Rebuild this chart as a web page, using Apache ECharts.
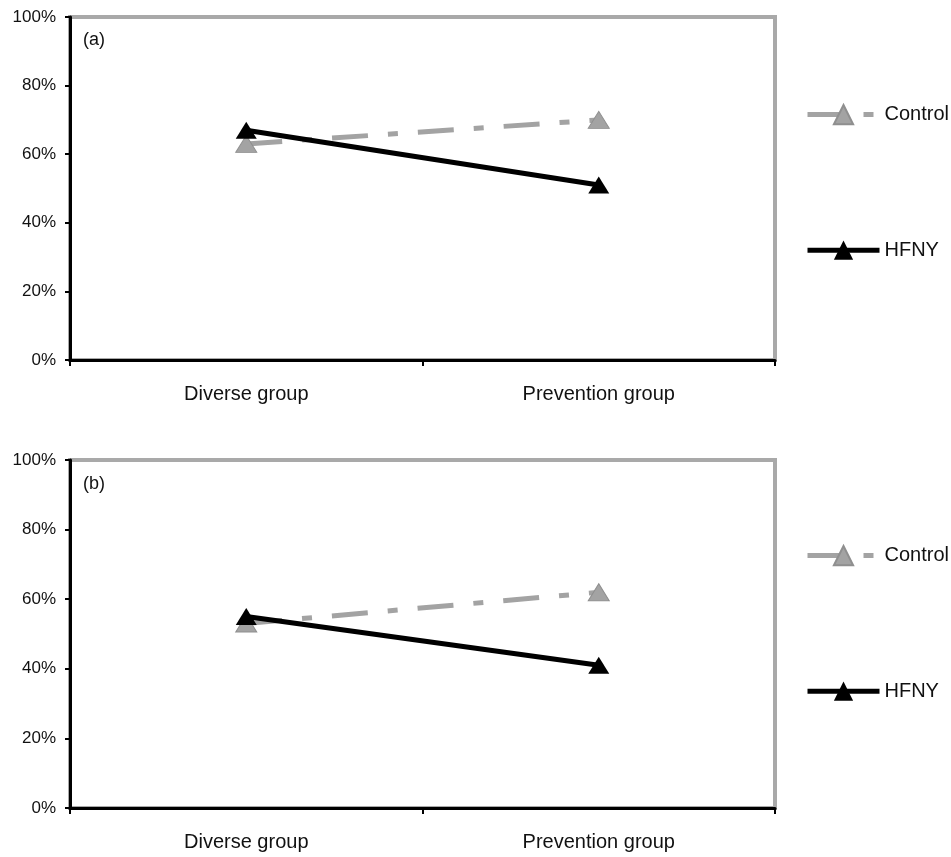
<!DOCTYPE html>
<html>
<head>
<meta charset="utf-8">
<script src="https://cdn.jsdelivr.net/npm/echarts@6/dist/echarts.min.js"></script>
<style>html,body{margin:0;padding:0;background:#fff}#c{width:951px;height:857px}</style>
</head>
<body>
<div id="c"></div>
<script>
var categories = ['Diverse group', 'Prevention group'];
var controlA = [63, 70];
var hfnyA = [67, 51];
var controlB = [53, 62];
var hfnyB = [55, 41];
var yTicks = [0, 20, 40, 60, 80, 100];

var FONT = 'Liberation Sans';
var chart = echarts.init(document.getElementById('c'));

function xAxis(gi) {
  return {
    type: 'category', gridIndex: gi, data: categories, boundaryGap: true,
    axisLine: {lineStyle: {color: '#000', width: 3}},
    axisTick: {show: true, length: 6, lineStyle: {color: '#000', width: 2}},
    axisLabel: {color: '#111', fontFamily: FONT, fontSize: 20, margin: 24},
    splitLine: {show: false}
  };
}
function yAxis(gi) {
  return {
    type: 'value', gridIndex: gi, min: yTicks[0], max: yTicks[yTicks.length - 1], interval: 20,
    axisLine: {show: true, lineStyle: {color: '#000', width: 3}},
    axisTick: {show: true, length: 5, lineStyle: {color: '#000', width: 2}},
    axisLabel: {color: '#111', fontFamily: FONT, fontSize: 17, margin: 14, formatter: '{value}%'},
    splitLine: {show: false}
  };
}
function ctrl(name, data, gi) {
  return {
    name: name, type: 'line', xAxisIndex: gi, yAxisIndex: gi, data: data,
    symbol: 'triangle', symbolSize: [21, 17],
    lineStyle: {color: '#a3a3a3', width: 5, type: [36, 20, 10, 20]},
    itemStyle: {color: '#a3a3a3', borderColor: '#8f8f8f', borderWidth: 1},
    z: 2
  };
}
function hf(name, data, gi) {
  return {
    name: name, type: 'line', xAxisIndex: gi, yAxisIndex: gi, data: data,
    symbol: 'triangle', symbolSize: [21, 17],
    lineStyle: {color: '#000', width: 5, type: 'solid'},
    itemStyle: {color: '#000'},
    z: 3
  };
}
function legend(top) {
  return {
    orient: 'vertical', left: 800, top: top, itemGap: 115,
    itemWidth: 72, itemHeight: 24,
    lineStyle: {width: 5},
    textStyle: {color: '#111', fontFamily: FONT, fontSize: 20},
    data: ['Control', 'HFNY'], selectedMode: false
  };
}

chart.setOption({
  animation: false,
  backgroundColor: '#fff',
  title: [
    {text: '(a)', left: 78, top: 26, textStyle: {fontFamily: FONT, fontSize: 18, fontWeight: 'normal', color: '#111'}},
    {text: '(b)', left: 78, top: 470, textStyle: {fontFamily: FONT, fontSize: 18, fontWeight: 'normal', color: '#111'}}
  ],
  legend: [legend(99), legend(540)],
  grid: [
    {left: 70, right: 176, top: 17, height: 343, show: true, borderColor: '#a9a9a9', borderWidth: 4, backgroundColor: '#fff'},
    {left: 70, right: 176, top: 460, height: 348, show: true, borderColor: '#a9a9a9', borderWidth: 4, backgroundColor: '#fff'}
  ],
  xAxis: [xAxis(0), xAxis(1)],
  yAxis: [yAxis(0), yAxis(1)],
  series: [
    ctrl('Control', controlA, 0), hf('HFNY', hfnyA, 0),
    ctrl('Control', controlB, 1), hf('HFNY', hfnyB, 1)
  ]
});
</script>
</body>
</html>
